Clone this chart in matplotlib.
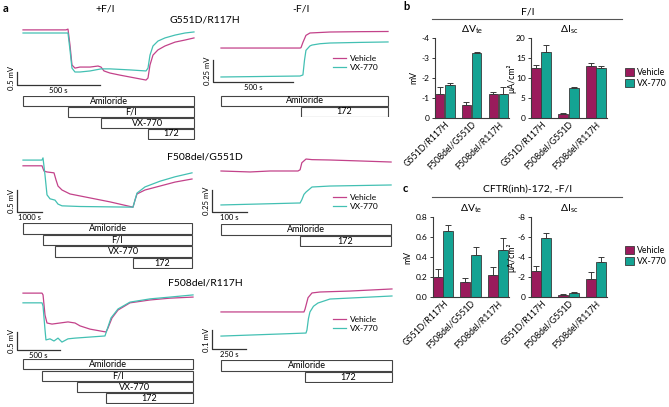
import numpy as np
import matplotlib
matplotlib.use("Agg")
import matplotlib.pyplot as plt
from matplotlib.patches import Rectangle, Patch

plt.rcParams['font.family'] = ['Lato', 'DejaVu Sans']
plt.rcParams['mathtext.fontset'] = 'custom'
plt.rcParams['mathtext.rm'] = 'Lato'

W, H = 669, 407

VEH_LINE = '#c3428a'
VX_LINE = '#43c0b3'
VEH_BAR = '#9a1b5c'
VX_BAR = '#14a393'
EDGE = '#3a3a3a'

# ---- traces (time in s, voltage in mV, relative) ----
# G551D/R117H +F/I
a1_veh_t = [0, 259, 271, 283, 295, 313, 343, 404, 452, 470, 488, 524, 584, 675, 741, 753, 765, 783, 813, 855, 916, 976, 1030]
a1_veh_v = [2.12, 2.12, 2.15, 1.54, 0.77, 0.65, 0.69, 0.69, 0.73, 0.69, 0.54, 0.46, 0.38, 0.27, 0.19, 0.27, 0.77, 1.15, 1.35, 1.50, 1.65, 1.73, 1.81]
a1_vx_t = [0, 265, 271, 283, 295, 313, 343, 404, 470, 524, 645, 741, 753, 765, 783, 813, 855, 916, 976, 1030]
a1_vx_v = [2.00, 2.00, 2.00, 1.35, 0.65, 0.50, 0.50, 0.54, 0.62, 0.62, 0.58, 0.54, 0.65, 1.15, 1.50, 1.69, 1.81, 1.92, 2.00, 2.04]
# G551D/R117H -F/I
b1_veh_t = [0, 494, 500, 512, 531, 556, 681, 869, 1044]
b1_veh_v = [0.386, 0.386, 0.39, 0.45, 0.53, 0.557, 0.568, 0.572, 0.574]
b1_vx_t = [0, 494, 512, 522, 531, 556, 569, 619, 681, 869, 1044]
b1_vx_v = [0.057, 0.068, 0.08, 0.25, 0.36, 0.41, 0.42, 0.435, 0.443, 0.45, 0.455]
# F508del/G551D +F/I
a2_veh_t = [0, 760, 840, 960, 1240, 1320, 1400, 1560, 1880, 2680, 3480, 4400, 4480, 4560, 4880, 5480, 6080, 6760]
a2_veh_v = [1.05, 1.05, 0.93, 0.91, 0.89, 0.73, 0.59, 0.50, 0.41, 0.32, 0.23, 0.11, 0.27, 0.41, 0.50, 0.59, 0.68, 0.75]
a2_vx_t = [0, 760, 800, 880, 960, 1080, 1280, 1400, 1560, 2280, 4400, 4480, 4560, 4880, 5480, 6080, 6760]
a2_vx_v = [1.18, 1.18, 1.23, 0.84, 0.39, 0.30, 0.27, 0.18, 0.14, 0.125, 0.11, 0.27, 0.43, 0.57, 0.70, 0.80, 0.89]
# F508del/G551D -F/I
b2_veh_t = [0, 83, 140, 220, 226, 231, 243, 260, 311, 397, 486]
b2_veh_v = [0.466, 0.455, 0.466, 0.466, 0.48, 0.56, 0.602, 0.595, 0.591, 0.58, 0.568]
b2_vx_t = [0, 111, 220, 226, 231, 237, 243, 260, 311, 486]
b2_vx_v = [0.08, 0.091, 0.102, 0.102, 0.14, 0.20, 0.227, 0.284, 0.295, 0.307]
# F508del/R117H +F/I
a3_veh_t = [0, 221, 233, 256, 279, 337, 430, 523, 605, 663, 779, 895, 965, 988, 1035, 1105, 1244, 1477, 1709, 1977]
a3_veh_v = [1.58, 1.58, 1.53, 0.97, 0.75, 0.72, 0.75, 0.78, 0.75, 0.67, 0.58, 0.53, 0.50, 0.61, 0.89, 1.11, 1.31, 1.39, 1.44, 1.47]
a3_vx_t = [0, 221, 233, 256, 267, 314, 360, 407, 453, 523, 605, 779, 953, 977, 1023, 1105, 1244, 1477, 1709, 1977]
a3_vx_v = [1.31, 1.31, 1.22, 0.56, 0.28, 0.31, 0.25, 0.33, 0.22, 0.31, 0.33, 0.36, 0.39, 0.56, 0.89, 1.14, 1.33, 1.42, 1.47, 1.53]
# F508del/R117H -F/I
b3_veh_t = [0, 610, 618, 640, 669, 728, 948, 1257]
b3_veh_v = [0.195, 0.195, 0.21, 0.27, 0.295, 0.30, 0.305, 0.316]
b3_vx_t = [0, 434, 625, 632, 643, 654, 680, 713, 801, 1257]
b3_vx_v = [0.068, 0.079, 0.084, 0.10, 0.16, 0.195, 0.225, 0.242, 0.263, 0.279]

# drug additions (s) and end of recording
drugs_plus = ['Amiloride', 'F/I', 'VX-770', '172']
drugs_minus = ['Amiloride', '172']
a1_times, a1_end = [0, 271, 470, 753], 1030
b1_times, b1_end = [0, 500], 1044
a2_times, a2_end = [0, 800, 1280, 4400], 6760
b2_times, b2_end = [0, 226], 486
a3_times, a3_end = [0, 221, 628, 965], 1977
b3_times, b3_end = [0, 618], 1257

# ---- bar data ----
genotypes = ['G551D/R117H', 'F508del/G551D', 'F508del/R117H']
b_vte_veh = [-1.22, -0.67, -1.20]
b_vte_veh_err = [0.35, 0.12, 0.12]
b_vte_vx = [-1.67, -3.25, -1.20]
b_vte_vx_err = [0.10, 0.06, 0.33]
b_isc_veh = [12.5, 1.1, 12.9]
b_isc_veh_err = [0.8, 0.15, 0.9]
b_isc_vx = [16.6, 7.5, 12.5]
b_isc_vx_err = [1.7, 0.2, 0.6]
c_vte_veh = [0.205, 0.15, 0.22]
c_vte_veh_err = [0.075, 0.04, 0.08]
c_vte_vx = [0.66, 0.42, 0.475]
c_vte_vx_err = [0.06, 0.08, 0.115]
c_isc_veh = [-2.6, -0.23, -1.85]
c_isc_veh_err = [0.55, 0.1, 0.63]
c_isc_vx = [-5.95, -0.43, -3.47]
c_isc_vx_err = [0.5, 0.07, 0.56]

fig = plt.figure(figsize=(W / 100, H / 100), dpi=100)


def px_axes(x0, y0, x1, y1):
    return fig.add_axes([x0 / W, 1 - y1 / H, (x1 - x0) / W, (y1 - y0) / H])


def fig_text(x, y, s, **kw):
    fig.text(x / W, 1 - y / H, s, **kw)


def trace_panel(box, t0_px, kt, v0_px, kv, veh, vx, bar_t, bar_s, bar_mv, mv_label, s_label):
    x0, y0, x1, y1 = box
    ax = px_axes(*box)
    ax.set_xlim((x0 - t0_px) / kt, (x1 - t0_px) / kt)
    ax.set_ylim((v0_px - y1) / kv, (v0_px - y0) / kv)
    ax.axis('off')
    ax.plot(veh[0], veh[1], color=VEH_LINE, lw=0.9, label='Vehicle')
    ax.plot(vx[0], vx[1], color=VX_LINE, lw=0.9, label='VX-770')
    ax.plot([bar_t, bar_t, bar_t + bar_s], [bar_mv, 0, 0], color='#333333', lw=0.9, clip_on=False)
    ax.annotate(mv_label, xy=(bar_t, bar_mv / 2), xytext=(-1.5, 0), textcoords='offset points',
                rotation=90, ha='right', va='center', fontsize=5.5)
    ax.annotate(s_label, xy=(bar_t + bar_s / 2, 0), xytext=(0, -1.5), textcoords='offset points',
                ha='center', va='top', fontsize=5.5)
    return ax


def drug_boxes(ax_tr, box, names, starts, t_end):
    axb = px_axes(*box)
    axb.set_xlim(ax_tr.get_xlim())
    axb.set_ylim(len(names), 0)
    axb.axis('off')
    for i, (n, s) in enumerate(zip(names, starts)):
        axb.add_patch(Rectangle((s, i + 0.04), t_end - s, 0.88, fc='white', ec='#444444', lw=0.8))
        axb.text((s + t_end) / 2, i + 0.5, n, ha='center', va='center', fontsize=6.5)


def trace_legend(ax, x, y):
    ax.legend(loc='center left', bbox_to_anchor=(x / W, 1 - y / H), bbox_transform=fig.transFigure,
              frameon=False, fontsize=6, handlelength=1.6, handletextpad=0.4, labelspacing=0.25,
              borderpad=0, borderaxespad=0)


# row 1
ax = trace_panel((8, 22, 200, 95), 23, 0.166, 85, 26, (a1_veh_t, a1_veh_v), (a1_vx_t, a1_vx_v),
                 -36, 500, 0.5, '0.5 mV', '500 s')
drug_boxes(ax, (8, 95.5, 200, 139.5), drugs_plus, a1_times, a1_end)
ax = trace_panel((205, 22, 397, 95), 221, 0.16, 82, 88, (b1_veh_t, b1_veh_v), (b1_vx_t, b1_vx_v),
                 -50, 500, 0.25, '0.25 mV', '500 s')
drug_boxes(ax, (205, 95.5, 397, 117.5), drugs_minus, b1_times, b1_end)
trace_legend(ax, 333, 63)

# row 2
ax = trace_panel((8, 150, 200, 222), 23, 0.025, 212, 44, (a2_veh_t, a2_veh_v), (a2_vx_t, a2_vx_v),
                 -240, 1000, 0.5, '0.5 mV', '1000 s')
drug_boxes(ax, (8, 223, 200, 269), drugs_plus, a2_times, a2_end)
ax = trace_panel((205, 150, 397, 222), 221, 0.35, 212, 88, (b2_veh_t, b2_veh_v), (b2_vx_t, b2_vx_v),
                 -25.7, 100, 0.25, '0.25 mV', '100 s')
drug_boxes(ax, (205, 224, 397, 247), drugs_minus, b2_times, b2_end)
trace_legend(ax, 333, 202)

# row 3
ax = trace_panel((8, 285, 200, 359), 23, 0.086, 350, 36, (a3_veh_t, a3_veh_v), (a3_vx_t, a3_vx_v),
                 -70, 500, 0.5, '0.5 mV', '500 s')
drug_boxes(ax, (8, 359, 200, 404), drugs_plus, a3_times, a3_end)
ax = trace_panel((205, 285, 397, 359), 221, 0.136, 349, 190, (b3_veh_t, b3_veh_v), (b3_vx_t, b3_vx_v),
                 -66, 250, 0.1, '0.1 mV', '250 s')
drug_boxes(ax, (205, 360, 397, 383), drugs_minus, b3_times, b3_end)
trace_legend(ax, 333, 324)

fig_text(3, 9, 'a', fontsize=8, fontweight='bold', va='center')
fig_text(105, 9, '+F/I', fontsize=7.5, ha='center', va='center')
fig_text(301, 9, '-F/I', fontsize=7.5, ha='center', va='center')
fig_text(205, 20, 'G551D/R117H', fontsize=7.5, ha='center', va='center')
fig_text(205, 157, 'F508del/G551D', fontsize=7.5, ha='center', va='center')
fig_text(205, 283, 'F508del/R117H', fontsize=7.5, ha='center', va='center')


# ---- bar panels ----
def bar_panel(box, veh, veh_err, vx, vx_err, ylim, ticks, ticklabels, ylabel, title, label_x):
    ax = px_axes(*box)
    x = np.arange(len(genotypes))
    w = 0.35
    for off, vals, errs, col in ((-0.19, veh, veh_err, VEH_BAR), (0.19, vx, vx_err, VX_BAR)):
        lo = [e if v < 0 else 0 for v, e in zip(vals, errs)]
        hi = [e if v >= 0 else 0 for v, e in zip(vals, errs)]
        ax.bar(x + off, vals, w, color=col, edgecolor=EDGE, linewidth=0.6,
               yerr=[lo, hi], error_kw=dict(ecolor=EDGE, elinewidth=0.7, capsize=2, capthick=0.7))
    ax.set_xlim(-0.365, 2.4)
    ax.set_ylim(*ylim)
    ax.set_yticks(ticks)
    ax.set_yticklabels(ticklabels, fontsize=6)
    ax.set_xticks(x)
    ax.set_xticklabels(genotypes, rotation=45, ha='right', rotation_mode='anchor', fontsize=6.3)
    ax.set_ylabel(ylabel, fontsize=6.3)
    ax.yaxis.set_label_coords(label_x, 0.5)
    ax.set_title(title, fontsize=7.5, pad=4)
    for s in ('top', 'right'):
        ax.spines[s].set_visible(False)
    for s in ('left', 'bottom'):
        ax.spines[s].set_color(EDGE)
        ax.spines[s].set_linewidth(0.8)
    ax.tick_params(length=2.5, width=0.7, color=EDGE, pad=1.2)
    ax.tick_params(axis='x', length=0)
    return ax


vte = r'$\Delta$V$_{\mathrm{te}}$'
isc = r'$\Delta$I$_{\mathrm{sc}}$'
bar_panel((435, 38, 509, 118), b_vte_veh, b_vte_veh_err, b_vte_vx, b_vte_vx_err, (0, -4),
          [0, -1, -2, -3, -4], ['0', '-1', '-2', '-3', '-4'], 'mV', vte, -0.22)
ax = bar_panel((531, 38, 607, 118), b_isc_veh, b_isc_veh_err, b_isc_vx, b_isc_vx_err, (0, 20),
               [0, 5, 10, 15, 20], ['0', '5', '10', '15', '20'], 'μA/cm²', isc, -0.19)
bar_panel((433, 217, 509, 297), c_vte_veh, c_vte_veh_err, c_vte_vx, c_vte_vx_err, (0, 0.8),
          [0, 0.2, 0.4, 0.6, 0.8], ['0.0', '0.2', '0.4', '0.6', '0.8'], 'mV', vte, -0.27)
ax2 = bar_panel((531, 217, 607, 297), c_isc_veh, c_isc_veh_err, c_isc_vx, c_isc_vx_err, (0, -8),
                [0, -2, -4, -6, -8], ['0', '-2', '-4', '-6', '-8'], 'μA/cm²', isc, -0.19)

handles = [Patch(fc=VEH_BAR, ec=EDGE, lw=0.6, label='Vehicle'), Patch(fc=VX_BAR, ec=EDGE, lw=0.6, label='VX-770')]
for a, yy in ((ax, 78), (ax2, 256)):
    a.legend(handles=handles, loc='center left', bbox_to_anchor=(625 / W, 1 - yy / H),
             bbox_transform=fig.transFigure, frameon=False, fontsize=6.2, handlelength=1.1,
             handleheight=1.1, handletextpad=0.3, labelspacing=0.2, borderpad=0, borderaxespad=0)

fig_text(403, 7, 'b', fontsize=8, fontweight='bold', va='center')
fig_text(528, 12, 'F/I', fontsize=7.5, ha='center', va='center')
fig.add_artist(plt.Line2D([432 / W, 622 / W], [1 - 19 / H, 1 - 19 / H], color='#555555', lw=0.8))
fig_text(403, 189, 'c', fontsize=8, fontweight='bold', va='center')
fig_text(528, 189, 'CFTR(inh)-172, -F/I', fontsize=7.5, ha='center', va='center')
fig.add_artist(plt.Line2D([432 / W, 622 / W], [1 - 197 / H, 1 - 197 / H], color='#555555', lw=0.8))

fig.savefig('out.png', dpi=100)
